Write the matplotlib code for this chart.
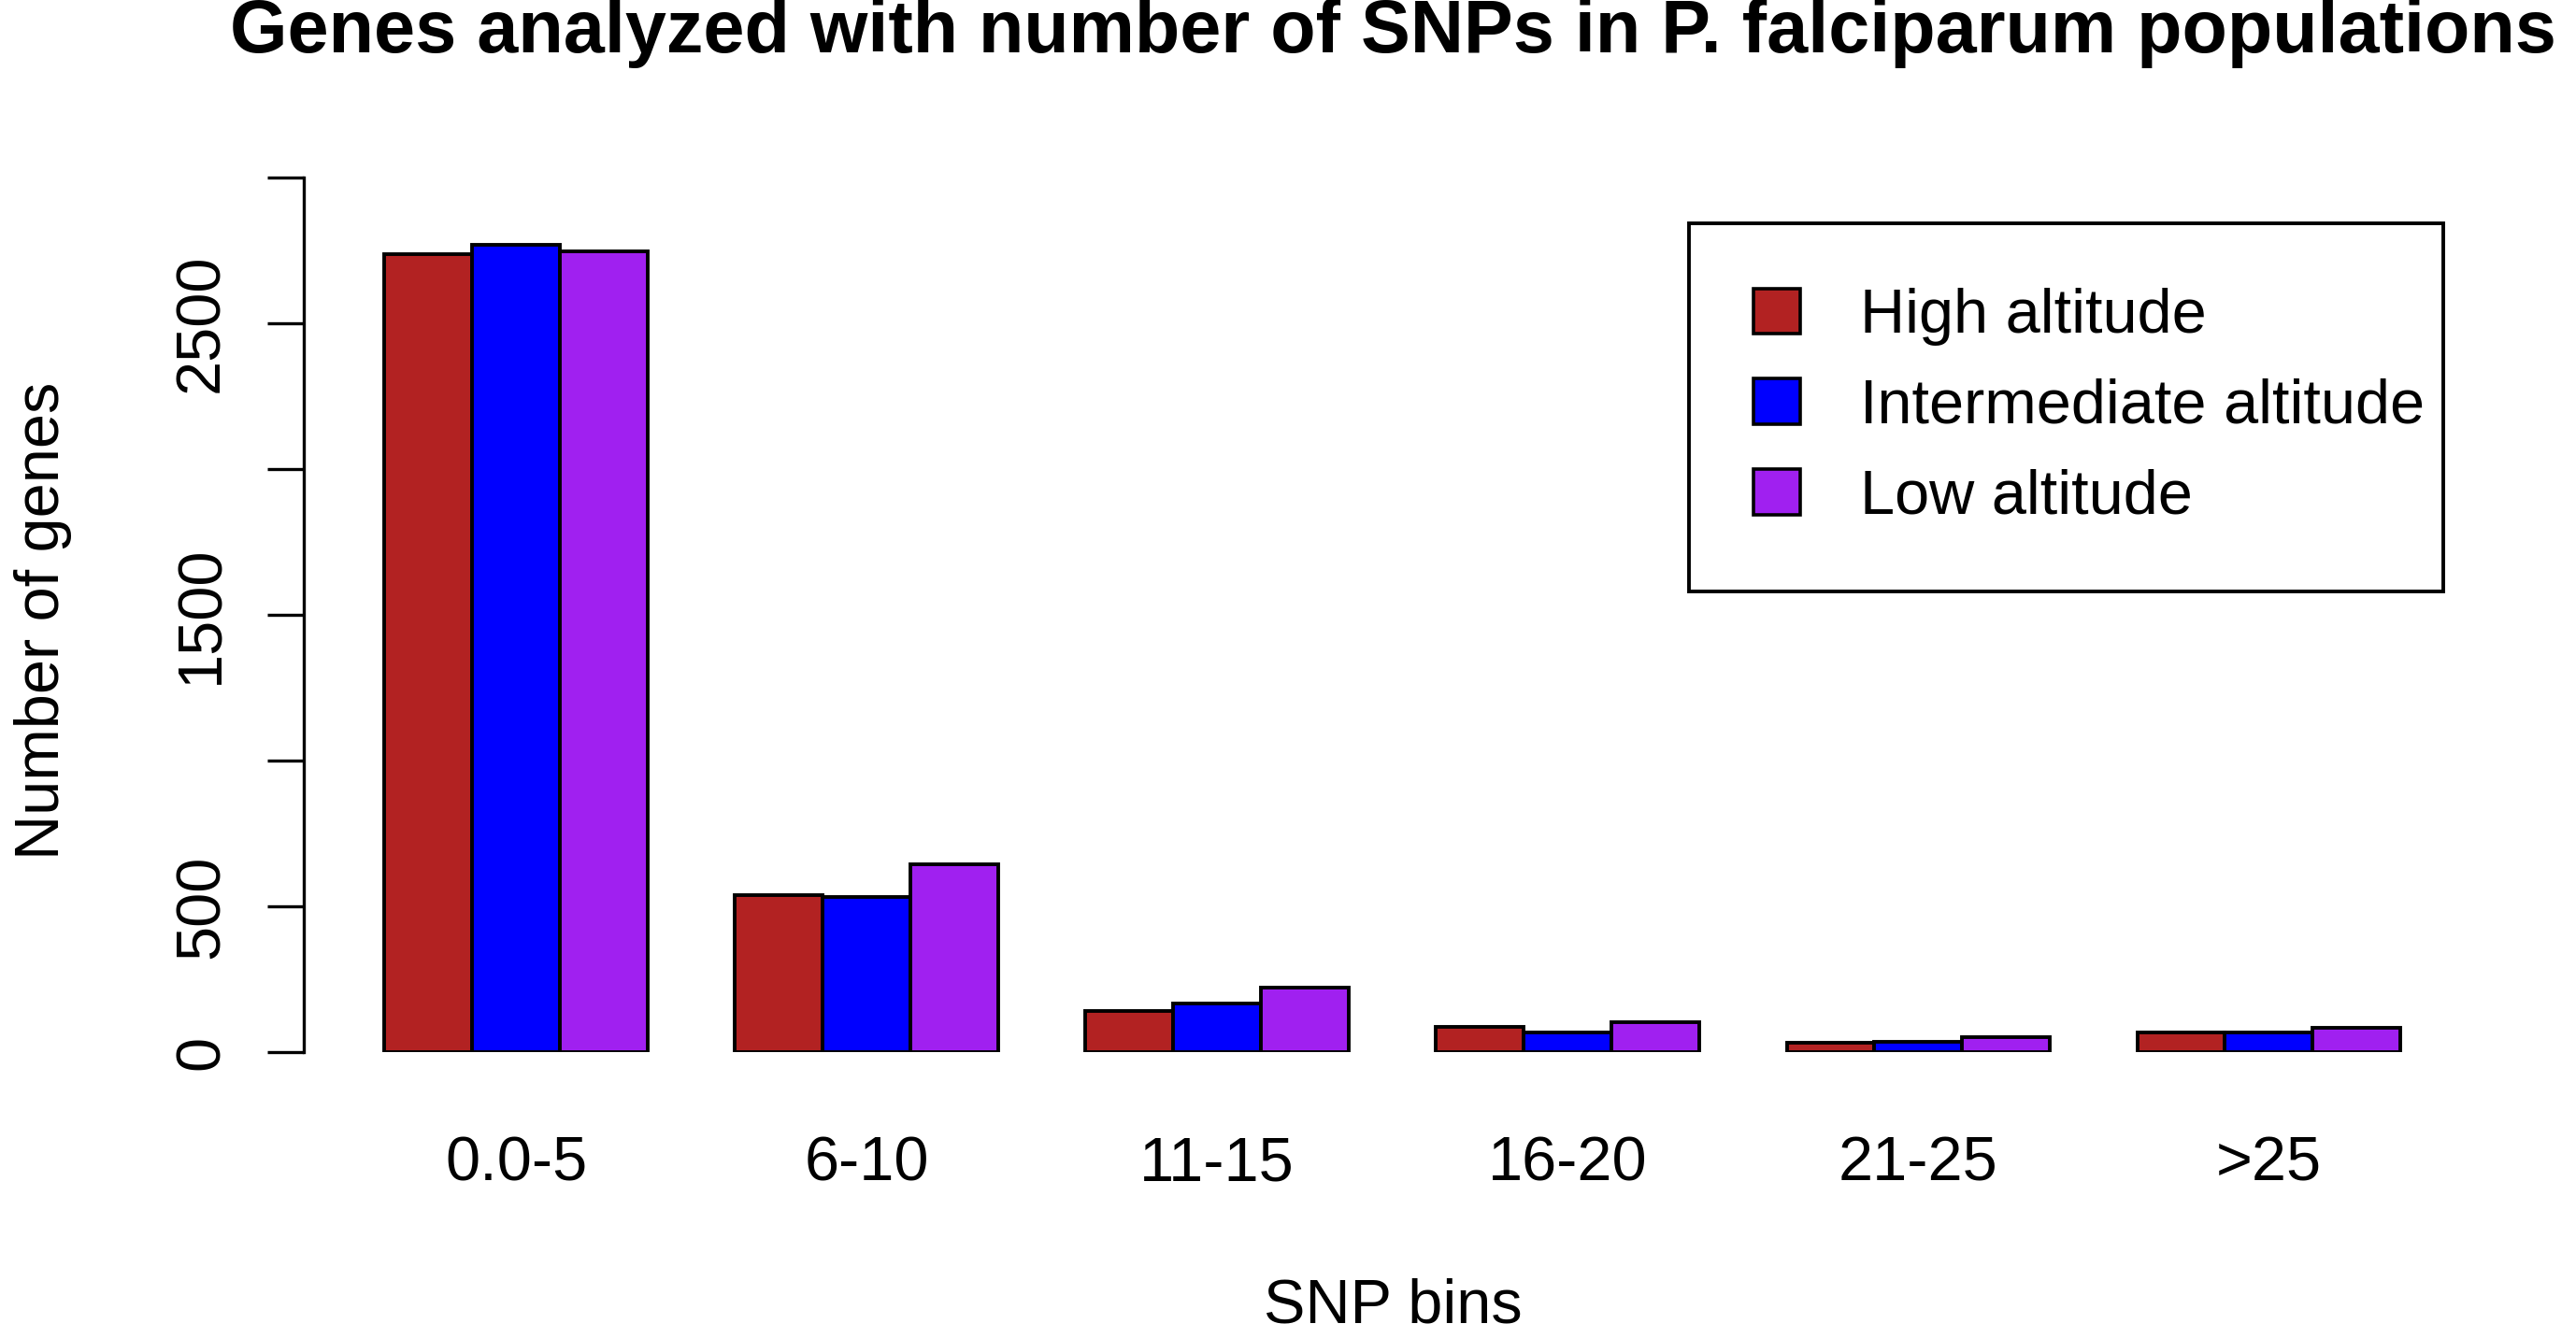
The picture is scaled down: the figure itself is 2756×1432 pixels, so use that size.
import numpy as np
import matplotlib
matplotlib.use("Agg")
import matplotlib.pyplot as plt
from matplotlib.patches import Patch

plt.rcParams["font.family"] = ["Liberation Sans", "DejaVu Sans"]

# data
bins = ["0.0-5", "6-10", "11-15", "16-20", "21-25", ">25"]
high_alt = [2737, 540, 142, 87, 34, 67]
inter_alt = [2769, 532, 169, 69, 37, 67]
low_alt = [2745, 645, 222, 102, 51, 83]
series_names = ["High altitude", "Intermediate altitude", "Low altitude"]
series_colors = ["#B22222", "#0000FF", "#A020F0"]
y_ticks = [0, 500, 1000, 1500, 2000, 2500, 3000]
y_tick_labels = ["0", "500", "", "1500", "", "2500", ""]

fig = plt.figure(figsize=(13.78, 7.16), dpi=200)
ax = fig.add_axes([0.118, 0.2135, 0.845, 0.654])

# R style beside barplot: 3 bars per group, 1 bar-width gap before each group
n_groups = len(bins)
group_start = np.arange(n_groups) * 4 + 1
for i, vals in enumerate([high_alt, inter_alt, low_alt]):
    ax.bar(group_start + i, vals, width=1.0, align="edge",
           color=series_colors[i], edgecolor="black", linewidth=1.4)

ax.set_xlim(0.08, 24.92)
ax.set_ylim(0, 3000)

for s in ["top", "right", "bottom"]:
    ax.spines[s].set_visible(False)
ax.spines["left"].set_linewidth(1.2)

ax.set_yticks(y_ticks)
ax.set_yticklabels(y_tick_labels, rotation=90, va="center", fontsize=24)
ax.tick_params(axis="y", length=14, width=1.2, pad=14)

ax.set_xticks(group_start + 1.5)
ax.set_xticklabels(bins, fontsize=24)
ax.tick_params(axis="x", length=0, pad=32)

fig.text(848 / 1568, 1 - 796 / 815, "SNP bins", ha="center", va="center", fontsize=24)
fig.text(26 / 1568, 1 - 378 / 815, "Number of genes", ha="center", va="center",
         rotation=90, fontsize=24)
fig.text(848 / 1568, 1 - 20 / 815,
         "Genes analyzed with number of SNPs in P. falciparum populations",
         ha="center", va="center", fontsize=28.5, fontweight="bold")

handles = [Patch(facecolor=c, edgecolor="black", linewidth=1.3, label=n)
           for c, n in zip(series_colors, series_names)]
leg = fig.legend(handles=handles, loc="upper left",
                 bbox_to_anchor=(1028 / 1568, 1 - 136 / 815, (1487 - 1028) / 1568, 0.0),
                 mode="expand", fontsize=24, frameon=True, fancybox=False,
                 framealpha=1, edgecolor="black", borderpad=1.04, labelspacing=0.52,
                 handlelength=0.75, handleheight=0.75, handletextpad=0.95,
                 borderaxespad=0)
leg.get_frame().set_linewidth(1.4)

fig.savefig("out.png", dpi=200, facecolor="white")
